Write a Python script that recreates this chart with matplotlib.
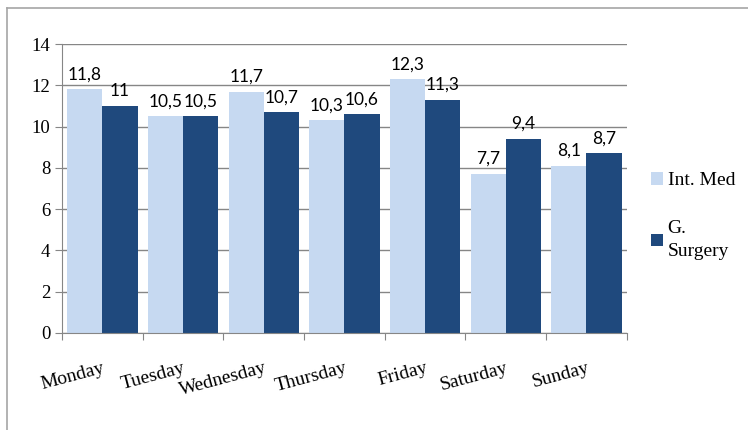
import numpy as np
import matplotlib.pyplot as plt
from matplotlib.lines import Line2D

days = ["Monday", "Tuesday", "Wednesday", "Thursday", "Friday", "Saturday", "Sunday"]
int_med = [11.8, 10.5, 11.7, 10.3, 12.3, 7.7, 8.1]
g_surgery = [11.0, 10.5, 10.7, 10.6, 11.3, 9.4, 8.7]
int_med_labels = ["11,8", "10,5", "11,7", "10,3", "12,3", "7,7", "8,1"]
g_surgery_labels = ["11", "10,5", "10,7", "10,6", "11,3", "9,4", "8,7"]

light = "#C6D9F1"
dark = "#1F497D"
grey = "#868686"

plt.rcParams["font.family"] = ["Liberation Serif", "DejaVu Serif"]

fig = plt.figure(figsize=(7.48, 4.30), dpi=100)
ax = fig.add_axes([0.083, 0.2256, 0.755, 0.672])

x = np.arange(len(days))
w = 0.435
b1 = ax.bar(x - w / 2, int_med, w, color=light, label="Int. Med")
b2 = ax.bar(x + w / 2, g_surgery, w, color=dark, label="G.\nSurgery")

lab_font = dict(family=["Lato", "DejaVu Sans"], fontsize=12.5, color="black")
for rect, t in zip(b1, int_med_labels):
    ax.annotate(t, (rect.get_x() + rect.get_width() / 2, rect.get_height()),
                xytext=(0, 5), textcoords="offset points", ha="center", va="bottom", **lab_font)
for rect, t in zip(b2, g_surgery_labels):
    ax.annotate(t, (rect.get_x() + rect.get_width() / 2, rect.get_height()),
                xytext=(0, 5), textcoords="offset points", ha="center", va="bottom", **lab_font)

ax.set_xlim(-0.5, len(days) - 0.5)
ax.set_ylim(0, 14)
ax.set_yticks(range(0, 15, 2))
ax.yaxis.grid(True, color=grey, linewidth=1)
ax.set_axisbelow(True)

# category ticks at boundaries, labels at centres
ax.set_xticks(np.arange(-0.5, len(days)), minor=False)
ax.set_xticklabels([])
ax.set_xticks(x, minor=True)
ax.set_xticklabels(days, minor=True, rotation=15, ha="right", rotation_mode="anchor",
                   fontsize=14)
ax.tick_params(axis="x", which="minor", length=0, pad=19)
ax.tick_params(axis="x", which="major", length=5, color=grey)
ax.tick_params(axis="y", length=5, color=grey, labelsize=13.5)

for s in ["top", "right"]:
    ax.spines[s].set_visible(False)
for s in ["left", "bottom"]:
    ax.spines[s].set_color(grey)

leg = fig.legend(handles=[b1, b2], loc="upper left", bbox_to_anchor=(0.847, 0.64),
                 frameon=False, prop={"size": 14},
                 handlelength=0.6, handleheight=0.6, handletextpad=0.25, labelspacing=1.6)
for t in leg.get_texts():
    t.set_linespacing(1.45)

# outer chart border
fig.add_artist(Line2D([0.0094, 0.0094], [0.0, 0.981], color="#A6A6A6", lw=1.2))
fig.add_artist(Line2D([0.0094, 1.0], [0.981, 0.981], color="#A6A6A6", lw=1.2))

fig.savefig("out.png", dpi=100)
